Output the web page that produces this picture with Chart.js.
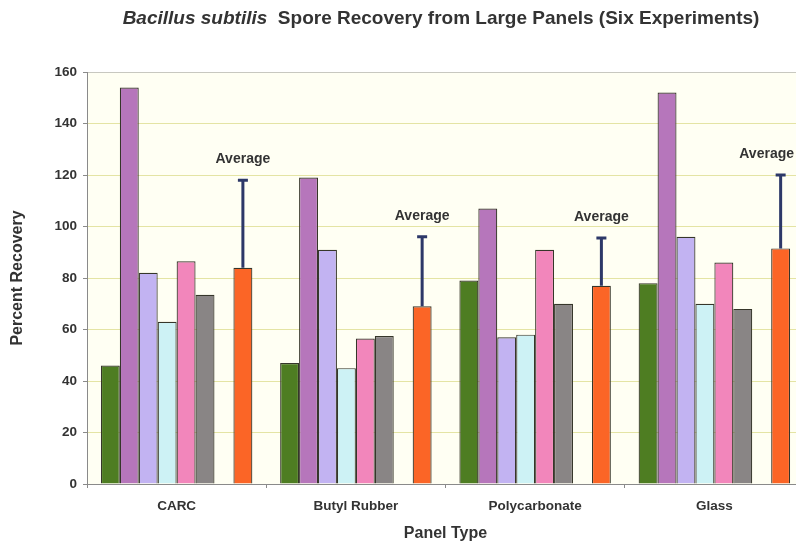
<!DOCTYPE html>
<html>
<head>
<meta charset="utf-8">
<script src="https://cdn.jsdelivr.net/npm/chart.js@4"></script>
<style>
  html, body { margin: 0; padding: 0; background: #ffffff; overflow: hidden; }
  #wrap { width: 810px; height: 542px; }
</style>
</head>
<body>
<div id="wrap"><canvas id="chartRecovery" width="810" height="542"></canvas></div>
<script>
const panelTypes = ["CARC", "Butyl Rubber", "Polycarbonate", "Glass"];
const exp1 = [46, 47, 79, 78];
const exp2 = [154, 119, 107, 152];
const exp3 = [82, 91, 57, 96];
const exp4 = [63, 45, 58, 70];
const exp5 = [86.5, 56.5, 91, 86];
const exp6 = [73.5, 57.5, 70, 68];
const spacer = [null, null, null, null];
const average = [84, 69, 77, 91.5];
const averageErr = [34, 27, 18.5, 28.5];
const yTicks = [0, 20, 40, 60, 80, 100, 120, 140, 160];

const fontFam = "'Liberation Sans', Arial, sans-serif";
const textCol = "#333333";

function barSet(label, data, color) {
    return { label: label, data: data, backgroundColor: color, borderColor: "#36362a", borderWidth: 1.2 };
}

// cream plot area + title + error bars with "Average" labels
const extras = {
    id: "extras",
    beforeDraw(chart) {
        const { ctx, chartArea: a } = chart;
        ctx.save();
        ctx.fillStyle = "#fffff3";
        ctx.fillRect(a.left, a.top, a.right - a.left, a.bottom - a.top);
        ctx.restore();
    },
    afterDraw(chart) {
        const ctx = chart.ctx;
        ctx.save();
        ctx.fillStyle = textCol;
        ctx.textBaseline = "middle";
        const partA = "Bacillus subtilis";
        const partB = "  Spore Recovery from Large Panels (Six Experiments)";
        ctx.font = "italic bold 19px " + fontFam;
        const wA = ctx.measureText(partA).width;
        ctx.font = "bold 19px " + fontFam;
        const wB = ctx.measureText(partB).width;
        let x = 441 - (wA + wB) / 2;
        ctx.textAlign = "left";
        ctx.font = "italic bold 19px " + fontFam;
        ctx.fillText(partA, x, 19);
        ctx.font = "bold 19px " + fontFam;
        ctx.fillText(partB, x + wA, 19);
        ctx.restore();
    },
    afterDatasetsDraw(chart) {
        const ctx = chart.ctx;
        const y = chart.scales.y;
        const meta = chart.getDatasetMeta(7);
        ctx.save();
        ctx.strokeStyle = "#2d3868";
        ctx.lineWidth = 3;
        meta.data.forEach((bar, i) => {
            const yTop = y.getPixelForValue(average[i] + averageErr[i]);
            const yBase = y.getPixelForValue(average[i]);
            ctx.beginPath();
            ctx.moveTo(bar.x, yBase);
            ctx.lineTo(bar.x, yTop);
            ctx.moveTo(bar.x - 5, yTop);
            ctx.lineTo(bar.x + 5, yTop);
            ctx.stroke();
            ctx.fillStyle = textCol;
            ctx.font = "bold 14px " + fontFam;
            ctx.textAlign = "center";
            ctx.textBaseline = "middle";
            const w = ctx.measureText("Average").width;
            const lx = Math.min(bar.x, 794 - w / 2);
            ctx.fillText("Average", lx, yTop - 21);
        });
        ctx.restore();
    }
};

new Chart(document.getElementById("chartRecovery"), {
    type: "bar",
    data: {
        labels: panelTypes,
        datasets: [
            barSet("Experiment 1", exp1, "#4e7d22"),
            barSet("Experiment 2", exp2, "#b676bb"),
            barSet("Experiment 3", exp3, "#c2b3f2"),
            barSet("Experiment 4", exp4, "#cdf2f5"),
            barSet("Experiment 5", exp5, "#f286bb"),
            barSet("Experiment 6", exp6, "#898585"),
            barSet("", spacer, "rgba(0,0,0,0)"),
            barSet("Average", average, "#fb6526")
        ]
    },
    options: {
        responsive: false,
        animation: false,
        events: [],
        layout: { padding: { top: 72, right: 6, left: 0, bottom: 0 } },
        datasets: { bar: { categoryPercentage: 0.845, barPercentage: 1.0 } },
        plugins: { legend: { display: false }, tooltip: { enabled: false } },
        scales: {
            x: {
                afterFit: s => { s.height = 58; },
                border: { color: "#8a8a8a", width: 1 },
                grid: { offset: true, drawOnChartArea: false, drawTicks: true, tickLength: 4, color: "#8a8a8a" },
                ticks: { color: textCol, font: { family: fontFam, size: 13.5, weight: "bold" }, padding: 10 },
                title: { display: true, text: "Panel Type", color: textCol, font: { family: fontFam, size: 16, weight: "bold" }, padding: { top: 0, bottom: -1 } }
            },
            y: {
                min: 0,
                max: 160,
                afterFit: s => { s.width = 87; },
                afterBuildTicks: s => { s.ticks = yTicks.map(v => ({ value: v })); },
                border: { color: "#8a8a8a", width: 1 },
                grid: {
                    color: ctx => ctx.tick && ctx.tick.value === 160 ? "#c8c8c0" : "#e4e4a4",
                    tickColor: "#8a8a8a",
                    tickLength: 4
                },
                ticks: { color: textCol, font: { family: fontFam, size: 13.5, weight: "bold" }, padding: 6 },
                title: { display: true, text: "Percent Recovery", color: textCol, font: { family: fontFam, size: 16, weight: "bold" }, padding: { top: 8, bottom: 0 } }
            }
        }
    },
    plugins: [extras]
});
</script>
</body>
</html>
